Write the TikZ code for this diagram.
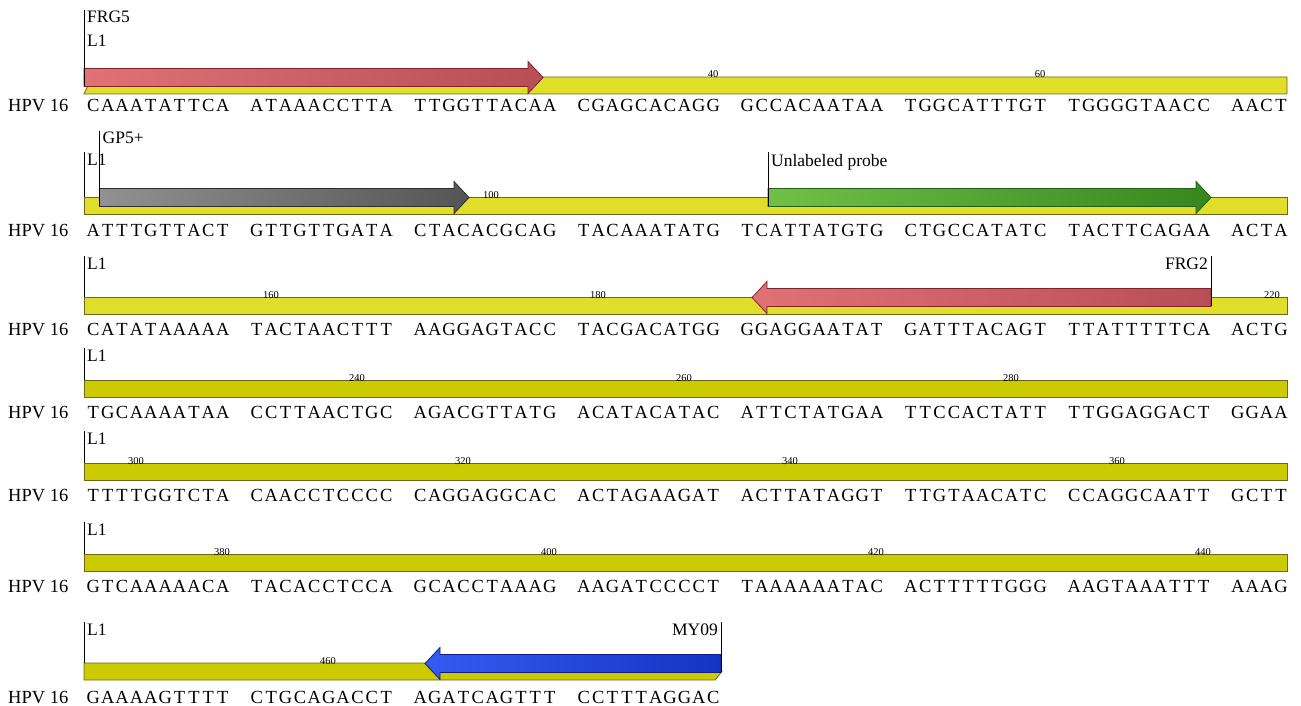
\documentclass[tikz,border=0pt]{standalone}
\usepackage{fontspec}
\setmainfont{Liberation Serif}
\usetikzlibrary{calc}
\newlength\cellw \setlength\cellw{14.37pt}
\def\seqaux#1{\ifx\relax#1\else\makebox[\cellw][c]{#1}\expandafter\seqaux\fi}
\newcommand\seqbox[1]{\edef\tmpseq{#1}\expandafter\seqaux\tmpseq\relax}
\definecolor{bandA}{RGB}{224,222,40}
\definecolor{bandB}{RGB}{204,202,0}
\definecolor{bandline}{RGB}{105,105,25}
\definecolor{redL}{RGB}{224,114,118}
\definecolor{redR}{RGB}{184,78,86}
\definecolor{redD}{RGB}{125,35,42}
\definecolor{grayL}{RGB}{145,145,145}
\definecolor{grayR}{RGB}{85,85,85}
\definecolor{grayD}{RGB}{45,45,45}
\definecolor{greenL}{RGB}{112,192,72}
\definecolor{greenR}{RGB}{55,135,30}
\definecolor{greenD}{RGB}{35,95,20}
\definecolor{blueL}{RGB}{52,92,242}
\definecolor{blueR}{RGB}{20,52,196}
\definecolor{blueD}{RGB}{15,30,130}
\tikzset{
  bandstyle/.style={fill=#1, draw=bandline, line width=0.8pt},
  hpv/.style={anchor=base west, inner sep=0pt, font=\fontsize{18.5}{18.5}\selectfont},
  seqtxt/.style={anchor=base west, inner sep=0pt, font=\fontsize{18.5}{18.5}\selectfont},
  lbl/.style={anchor=base west, inner sep=0pt, font=\fontsize{17.5}{17.5}\selectfont},
  lblr/.style={anchor=base east, inner sep=0pt, font=\fontsize{17.5}{17.5}\selectfont},
  num/.style={anchor=base, inner sep=0pt, font=\fontsize{10.5}{10.5}\selectfont},
  tickline/.style={draw=black, line width=0.9pt},
  arrowred/.style={left color=redL, right color=redR, draw=redD, line width=0.8pt},
  arrowredrev/.style={left color=redL, right color=redR, draw=redD, line width=0.8pt},
  arrowgray/.style={left color=grayL, right color=grayR, draw=grayD, line width=0.8pt},
  arrowgreen/.style={left color=greenL, right color=greenR, draw=greenD, line width=0.8pt},
  arrowblue/.style={left color=blueL, right color=blueR, draw=blueD, line width=0.8pt},
}
% right arrow: #1 style, #2 x start, #3 x tip, #4 center y
\newcommand\rarrow[4]{\path[#1] (#2,#4-9) -- (#3-15,#4-9) -- (#3-15,#4-16) -- (#3,#4) -- (#3-15,#4+16) -- (#3-15,#4+9) -- (#2,#4+9) -- cycle;}
% left arrow: #1 style, #2 x tip, #3 x end, #4 center y
\newcommand\larrow[4]{\path[#1] (#3,#4-9) -- (#2+15,#4-9) -- (#2+15,#4-16) -- (#2,#4) -- (#2+15,#4+16) -- (#2+15,#4+9) -- (#3,#4+9) -- cycle;}
\newcommand\seqrow[3]{%
  \node[hpv] (hpv#1) at (8,#2) {HPV 16};
  \foreach \g [count=\k from 0] in {#3} {\node[seqtxt] (r#1g\k) at ({86+\k*163.5},#2) {\seqbox{\g}};}
}
\begin{document}
\begin{tikzpicture}[x=1pt,y=-1pt]
\useasboundingbox (0,0) rectangle (1301,706);
\fill[white] (0,0) rectangle (1301,706);

% ---------- bands ----------
\path[bandstyle=bandA] (84,77) -- (1287,77) -- (1287,94) -- (84,94) -- (88,85.5) -- cycle;
\path[bandstyle=bandA] (84,197) rectangle (1287,214);
\path[bandstyle=bandA] (84,297) rectangle (1287,314);
\path[bandstyle=bandB] (84,380) rectangle (1287,397);
\path[bandstyle=bandB] (84,463) rectangle (1287,480);
\path[bandstyle=bandB] (84,554) rectangle (1287,571);
\path[bandstyle=bandB] (84,663) -- (715,663) -- (722,671.5) -- (715,680) -- (84,680) -- cycle;

% ---------- primer / probe arrows ----------
\rarrow{arrowred}{84}{543}{77.5}
\rarrow{arrowgray}{99.5}{469}{197.5}
\rarrow{arrowgreen}{768}{1211}{197.5}
\larrow{arrowredrev}{752}{1211}{297.5}
\larrow{arrowblue}{425}{721}{663.5}

% ---------- ticks and labels ----------
\coordinate (t1a) at (84,10);   \coordinate (t1b) at (84,86);
\draw[tickline] (t1a) -- (t1b);
\node[lbl] (frg5) at (87,23) {FRG5};
\node[lbl] (l1r1) at (87,47) {L1};

\coordinate (t2a) at (84,152);  \coordinate (t2b) at (84,197);
\draw[tickline] (t2a) -- (t2b);
\node[lbl] (l1r2) at (87,165) {L1};
\coordinate (t2c) at (99.5,131); \coordinate (t2d) at (99.5,206);
\draw[tickline] (t2c) -- (t2d);
\node[lbl] (gp5) at (102.5,143) {GP5+};
\coordinate (t2e) at (768,152); \coordinate (t2f) at (768,206);
\draw[tickline] (t2e) -- (t2f);
\node[lbl] (probe) at (771,166) {Unlabeled probe};

\coordinate (t3a) at (84,256);  \coordinate (t3b) at (84,297);
\draw[tickline] (t3a) -- (t3b);
\node[lbl] (l1r3) at (87,269) {L1};
\coordinate (t3c) at (1211,256); \coordinate (t3d) at (1211,306);
\draw[tickline] (t3c) -- (t3d);
\node[lblr] (frg2) at (1208,269) {FRG2};

\coordinate (t4a) at (84,348);  \coordinate (t4b) at (84,380);
\draw[tickline] (t4a) -- (t4b);
\node[lbl] (l1r4) at (87,361) {L1};

\coordinate (t5a) at (84,431);  \coordinate (t5b) at (84,463);
\draw[tickline] (t5a) -- (t5b);
\node[lbl] (l1r5) at (87,444) {L1};

\coordinate (t6a) at (84,522);  \coordinate (t6b) at (84,554);
\draw[tickline] (t6a) -- (t6b);
\node[lbl] (l1r6) at (87,535) {L1};

\coordinate (t7a) at (84,622);  \coordinate (t7b) at (84,663);
\draw[tickline] (t7a) -- (t7b);
\node[lbl] (l1r7) at (87,635) {L1};
\coordinate (t7c) at (721,622); \coordinate (t7d) at (721,672);
\draw[tickline] (t7c) -- (t7d);
\node[lblr] (my09) at (718,635) {MY09};

% ---------- ruler numbers ----------
\node[num] (n40) at (713,78) {40};
\node[num] (n60) at (1040,78) {60};
\node[num] (n100) at (491,198) {100};
\node[num] (n160) at (271,298) {160};
\node[num] (n180) at (598,298) {180};
\node[num] (n220) at (1272,298) {220};
\node[num] (n240) at (357,381) {240};
\node[num] (n260) at (684,381) {260};
\node[num] (n280) at (1011,381) {280};
\node[num] (n300) at (136,464) {300};
\node[num] (n320) at (463,464) {320};
\node[num] (n340) at (790,464) {340};
\node[num] (n360) at (1117,464) {360};
\node[num] (n380) at (222,555) {380};
\node[num] (n400) at (549,555) {400};
\node[num] (n420) at (876,555) {420};
\node[num] (n440) at (1203,555) {440};
\node[num] (n460) at (328,664) {460};

% ---------- sequences ----------
\seqrow{1}{112}{CAAATATTCA,ATAAACCTTA,TTGGTTACAA,CGAGCACAGG,GCCACAATAA,TGGCATTTGT,TGGGGTAACC,AACT}
\seqrow{2}{236}{ATTTGTTACT,GTTGTTGATA,CTACACGCAG,TACAAATATG,TCATTATGTG,CTGCCATATC,TACTTCAGAA,ACTA}
\seqrow{3}{335}{CATATAAAAA,TACTAACTTT,AAGGAGTACC,TACGACATGG,GGAGGAATAT,GATTTACAGT,TTATTTTTCA,ACTG}
\seqrow{4}{418}{TGCAAAATAA,CCTTAACTGC,AGACGTTATG,ACATACATAC,ATTCTATGAA,TTCCACTATT,TTGGAGGACT,GGAA}
\seqrow{5}{501}{TTTTGGTCTA,CAACCTCCCC,CAGGAGGCAC,ACTAGAAGAT,ACTTATAGGT,TTGTAACATC,CCAGGCAATT,GCTT}
\seqrow{6}{592}{GTCAAAAACA,TACACCTCCA,GCACCTAAAG,AAGATCCCCT,TAAAAAATAC,ACTTTTTGGG,AAGTAAATTT,AAAG}
\seqrow{7}{703}{GAAAAGTTTT,CTGCAGACCT,AGATCAGTTT,CCTTTAGGAC}
\end{tikzpicture}
\end{document}
